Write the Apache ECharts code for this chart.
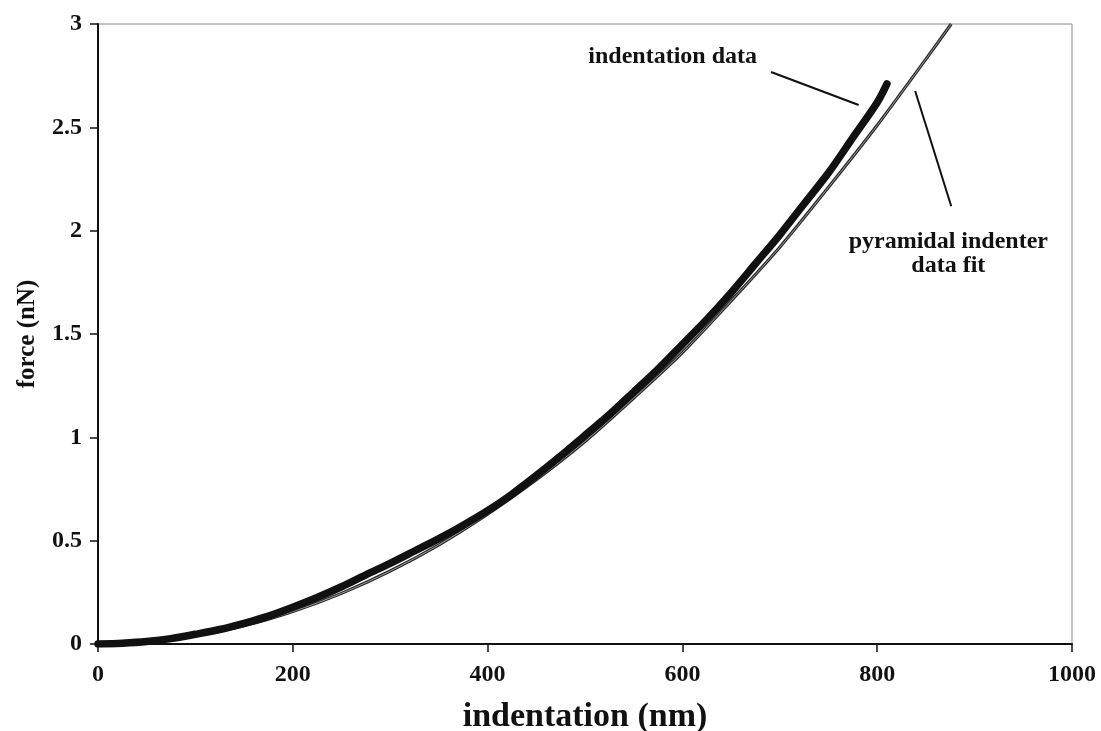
<!DOCTYPE html>
<html>
<head>
<meta charset="utf-8">
<script src="https://cdn.jsdelivr.net/npm/echarts@6/dist/echarts.min.js"></script>
<style>
html,body{margin:0;padding:0;background:#fff;}
#chart{width:1101px;height:731px;}
</style>
</head>
<body>
<div id="chart"></div>
<script>
// indentation (nm) and force (nN)
const dataX = [0, 25, 50, 75, 100, 125, 150, 175, 200, 225, 250, 275, 300, 325, 350, 375, 400, 425, 450, 475, 500, 525, 550, 575, 600, 625, 650, 675, 700, 725, 750, 775, 800, 810];
const dataY = [0, 0.004, 0.012, 0.026, 0.047, 0.07, 0.1, 0.135, 0.178, 0.225, 0.277, 0.335, 0.39, 0.45, 0.51, 0.575, 0.645, 0.725, 0.815, 0.91, 1.01, 1.11, 1.22, 1.33, 1.45, 1.57, 1.70, 1.84, 1.98, 2.13, 2.28, 2.45, 2.62, 2.71];

const fitX = [0, 50, 100, 150, 200, 250, 300, 350, 400, 450, 500, 550, 600, 650, 700, 750, 800, 850, 876];
const fitY = [0, 0.01, 0.04, 0.088, 0.157, 0.245, 0.353, 0.48, 0.628, 0.795, 0.98, 1.19, 1.41, 1.66, 1.92, 2.21, 2.51, 2.83, 3.0];

const xTicks = {min: 0, max: 1000, interval: 200};
const yTicks = {min: 0, max: 3, interval: 0.5};

const annotationLabels = ['indentation data', 'pyramidal indenter\ndata fit'];
const annotationAt = [[590, 2.84], [873, 1.89]];
const leaderFrom = [[691, 2.768], [876, 2.118]];
const leaderTo = [[781, 2.608], [839, 2.676]];

const FONT = "'Liberation Serif', 'Times New Roman', serif";
const pairs = (xs, ys) => xs.map((x, i) => [x, ys[i]]);

const chart = echarts.init(document.getElementById('chart'));
chart.setOption({
  animation: false,
  backgroundColor: '#fff',
  grid: {left: 98, right: 29, top: 24, bottom: 87, show: true, borderColor: '#8a8a8a', borderWidth: 1,
         containLabel: false, outerBoundsMode: 'none'},
  xAxis: {
    type: 'value', min: xTicks.min, max: xTicks.max, interval: xTicks.interval,
    name: 'indentation (nm)', nameLocation: 'middle', nameGap: 56,
    nameTextStyle: {fontFamily: FONT, fontWeight: 'bold', fontSize: 34, color: '#111'},
    axisLine: {show: true, onZero: false, lineStyle: {color: '#111', width: 2}},
    axisTick: {show: true, inside: false, length: 8, lineStyle: {color: '#111', width: 1.5}},
    axisLabel: {fontFamily: FONT, fontWeight: 'bold', fontSize: 24, color: '#111', margin: 19,
                formatter: v => String(v)},
    splitLine: {show: false}
  },
  yAxis: {
    type: 'value', min: yTicks.min, max: yTicks.max, interval: yTicks.interval,
    name: 'force (nN)', nameLocation: 'middle', nameGap: 58, nameRotate: 90,
    nameTextStyle: {fontFamily: FONT, fontWeight: 'bold', fontSize: 25, color: '#111'},
    axisLine: {show: true, onZero: false, lineStyle: {color: '#111', width: 2}},
    axisTick: {show: true, inside: false, length: 8, lineStyle: {color: '#111', width: 1.5}},
    axisLabel: {fontFamily: FONT, fontWeight: 'bold', fontSize: 24, color: '#111', margin: 16},
    splitLine: {show: false}
  },
  series: [
    {
      type: 'line', data: pairs(fitX, fitY), showSymbol: false, smooth: 0.3, z: 2,
      lineStyle: {color: '#2a2a2a', width: 3.2}, silent: true
    },
    {
      type: 'line', data: pairs(fitX, fitY), showSymbol: false, smooth: 0.3, z: 3,
      lineStyle: {color: '#9a9a9a', width: 1}, silent: true
    },
    {
      type: 'line', data: pairs(dataX, dataY), showSymbol: false, smooth: 0.3, z: 4,
      lineStyle: {color: '#111', width: 7.5, cap: 'round'}, silent: true
    },
    {
      type: 'scatter', symbolSize: 0, z: 5, silent: true,
      itemStyle: {opacity: 1},
      data: annotationAt.map((p, i) => ({value: p, name: annotationLabels[i]})),
      label: {show: true, position: 'inside', formatter: '{b}', fontFamily: FONT, fontWeight: 'bold',
              fontSize: 24, lineHeight: 24, color: '#111', opacity: 1, align: 'center'},
      markLine: {
        silent: true, symbol: 'none', animation: false,
        lineStyle: {color: '#111', width: 2, type: 'solid', opacity: 1},
        label: {show: false},
        data: leaderFrom.map((p, i) => [{coord: p}, {coord: leaderTo[i]}])
      }
    }
  ]
});
</script>
</body>
</html>
